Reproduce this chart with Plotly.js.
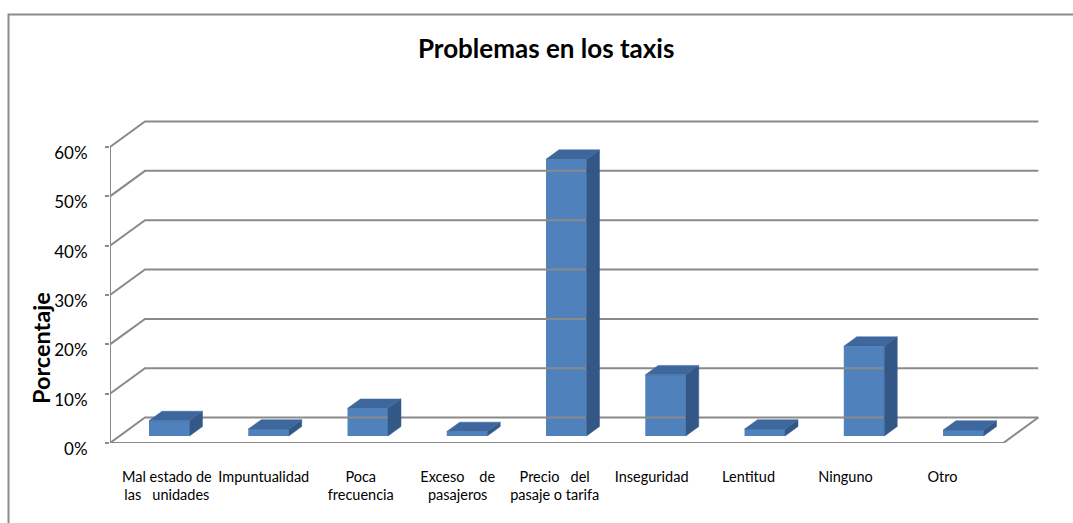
<!DOCTYPE html>
<html><head><meta charset="utf-8">
<script src="https://cdn.plot.ly/plotly-3.0.1.min.js"></script>
<style>html,body{margin:0;padding:0;background:#fff}#chart{width:1073px;height:523px}</style>
</head><body><div id="chart"></div>
<script>
// ---- data ----
const categories = ["Mal estado de las unidades", "Impuntualidad", "Poca frecuencia", "Exceso de pasajeros",
  "Precio del pasaje o tarifa", "Inseguridad", "Lentitud", "Ninguno", "Otro"];
const tickLabels = [
  "Mal estado de<br>las\u00a0\u00a0\u00a0unidades",
  "Impuntualidad",
  "Poca<br>frecuencia",
  "Exceso\u00a0\u00a0\u00a0\u00a0de<br>pasajeros",
  "Precio\u00a0\u00a0\u00a0del<br>pasaje o tarifa",
  "Inseguridad",
  "Lentitud",
  "Ninguno",
  "Otro"
];
const values = [3.1, 1.4, 5.6, 0.9, 56.1, 12.4, 1.4, 18.2, 1.2];
const yTicks = [0, 10, 20, 30, 40, 50, 60];
const yTickText = ["0%", "10%", "20%", "30%", "40%", "50%", "60%"];

// ---- 3D oblique geometry (in axis units) ----
const DX = 0.3527, DY = 5.16;     // depth offset of the back wall
const F0 = 0.275, F1 = 0.645;     // bar depth span (fraction)
const BW = 0.408;                 // bar width
const n = categories.length;
const idx = categories.map((_, i) => i);
const xL = -0.5, xR = n - 0.5;

// gridlines + floor
const gx = [], gy = [];
yTicks.forEach(t => { gx.push(xL, xL + DX, xR + DX, null); gy.push(t, t + DY, t + DY, null); });
gx.push(xL, xR, xR + DX, null); gy.push(0, 0, DY, null);
gx.push(xL, xL); gy.push(0, yTicks[yTicks.length - 1]);

// bar side and top faces
const sx = [], sy = [], tx = [], ty = [];
values.forEach((v, i) => {
  const cx = i + F0 * DX, l = cx - BW / 2, r = cx + BW / 2;
  const ddx = (F1 - F0) * DX, b0 = F0 * DY, b1 = F1 * DY;
  sx.push(r, r + ddx, r + ddx, r, r, null);
  sy.push(b0, b1, v + b1, v + b0, b0, null);
  tx.push(l, r, r + ddx, l + ddx, l, null);
  ty.push(v + b0, v + b0, v + b1, v + b1, v + b0, null);
});

const GRID = '#8a8a8a';
const FONT = 'Lato, "Open Sans", sans-serif';

const traces = [
  {x: gx, y: gy, mode: 'lines', line: {color: GRID, width: 2}, hoverinfo: 'skip', showlegend: false},
  {x: sx, y: sy, mode: 'lines', fill: 'toself', fillcolor: '#335887', line: {color: '#335887', width: 0.5}, hoverinfo: 'skip', showlegend: false},
  {x: tx, y: ty, mode: 'lines', fill: 'toself', fillcolor: '#3d679d', line: {color: '#3d679d', width: 0.5}, hoverinfo: 'skip', showlegend: false},
  {type: 'bar', x: idx.map(i => i + F0 * DX), y: values, base: F0 * DY, width: BW, textposition: 'none',
   marker: {color: '#4f81bd', line: {width: 0}}, hovertext: categories, hoverinfo: 'text+y', showlegend: false},
  {x: idx, y: values, xaxis: 'x2', yaxis: 'y', mode: 'markers', marker: {opacity: 0}, hoverinfo: 'skip', showlegend: false}
];

const layout = {
  width: 1073, height: 523,
  margin: {l: 110, r: 30, t: 117, b: 80},
  paper_bgcolor: '#fff', plot_bgcolor: 'rgba(0,0,0,0)',
  font: {family: FONT, color: '#000'},
  title: {text: 'Problemas en los taxis', font: {family: FONT, size: 26, weight: 700, color: '#000'},
          x: 0.509, xanchor: 'center', xref: 'container', y: 0.906, yanchor: 'middle', yref: 'container'},
  xaxis: {range: [-0.5, 8.9], visible: false, fixedrange: true},
  xaxis2: {overlaying: 'x', anchor: 'y', side: 'bottom', range: [-0.5858, 9.0367],
           tickvals: idx, ticktext: tickLabels, tickangle: 0, ticks: '', showline: false, showgrid: false, zeroline: false,
           tickfont: {family: FONT, size: 14.5, color: '#000'}, ticklabelstandoff: 23, fixedrange: true},
  yaxis: {range: [0, 66.08], tickvals: yTicks, ticktext: yTickText, ticks: 'outside', ticklen: 4, tickwidth: 2,
          tickcolor: GRID, showgrid: false, zeroline: false, showline: false,
          tickfont: {family: FONT, size: 17, color: '#000'}, ticklabelshift: 6, ticklabelstandoff: 14, fixedrange: true},
  annotations: [{text: 'Porcentaje', xref: 'paper', yref: 'paper', x: -0.074, y: 0.291, xanchor: 'center', yanchor: 'middle',
                 textangle: -90, showarrow: false, font: {family: FONT, size: 23.5, weight: 700, color: '#000'}}],
  shapes: [{type: 'rect', xref: 'paper', yref: 'paper', x0: -0.1088, y0: -0.5, x1: 1.2, y1: 1.3144,
            line: {color: '#8c8c8c', width: 2}, fillcolor: 'rgba(0,0,0,0)', layer: 'below'}]
};

Plotly.newPlot('chart', traces, layout, {displayModeBar: false, staticPlot: true});
</script>
</body></html>
